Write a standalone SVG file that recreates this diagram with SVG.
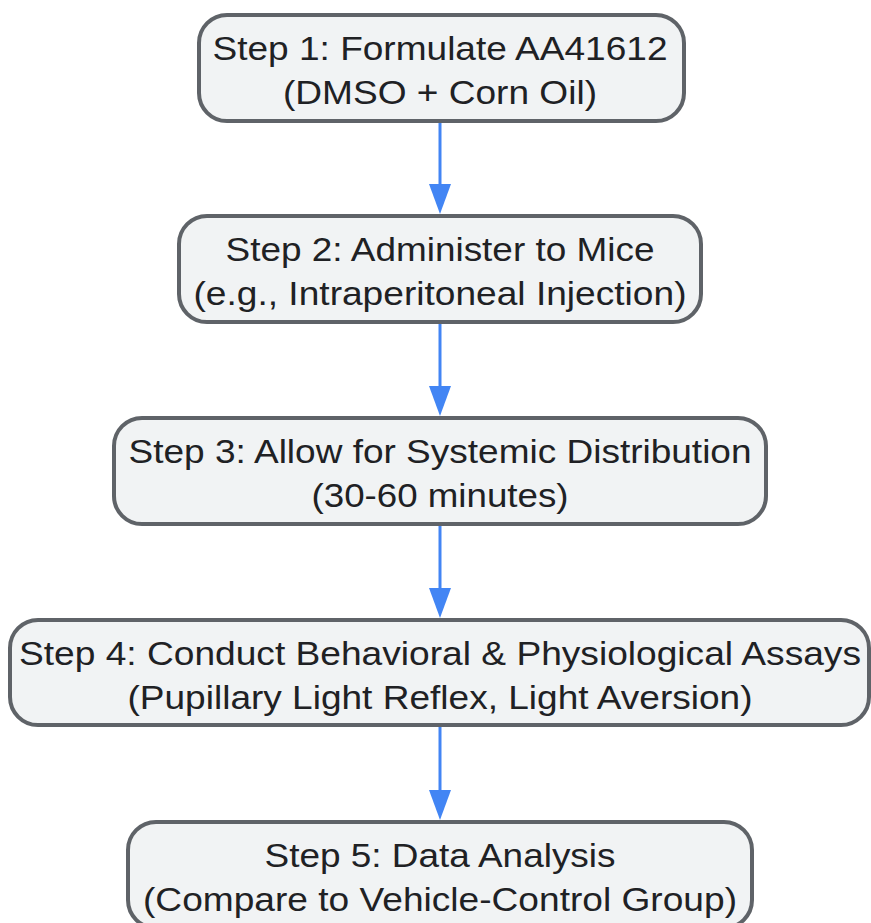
<svg xmlns="http://www.w3.org/2000/svg" width="871" height="923" viewBox="0 0 871 923">
<style>
.node rect{fill:#f1f3f4;stroke:#5f6368;stroke-width:4}
.node text{font-family:"Liberation Sans",Arial,sans-serif;font-size:33px;fill:#202124;text-anchor:middle}
.edge{stroke:#4285f4;stroke-width:3;fill:none}
</style>
<defs>
<marker id="arr" markerUnits="userSpaceOnUse" markerWidth="30" markerHeight="22" refX="16" refY="11" orient="auto">
<path d="M0,0 L30,11 L0,22 z" fill="#4285f4"/>
</marker>
</defs>
<rect width="871" height="923" fill="#ffffff"/>
<g id="connectors">
<line class="edge" x1="440" y1="123" x2="440" y2="200" marker-end="url(#arr)"/>
<line class="edge" x1="440" y1="324" x2="440" y2="402" marker-end="url(#arr)"/>
<line class="edge" x1="440" y1="526" x2="440" y2="604" marker-end="url(#arr)"/>
<line class="edge" x1="440" y1="727" x2="440" y2="806" marker-end="url(#arr)"/>
</g>
<g id="step1" class="node">
<rect x="199" y="15" width="485" height="106" rx="28"/>
<text x="440" y="60" textLength="455" lengthAdjust="spacingAndGlyphs">Step 1: Formulate AA41612</text>
<text x="440" y="104" textLength="314" lengthAdjust="spacingAndGlyphs">(DMSO + Corn Oil)</text>
</g>
<g id="step2" class="node">
<rect x="179" y="216" width="522" height="106" rx="28"/>
<text x="440" y="261" textLength="429" lengthAdjust="spacingAndGlyphs">Step 2: Administer to Mice</text>
<text x="440" y="305" textLength="493" lengthAdjust="spacingAndGlyphs">(e.g., Intraperitoneal Injection)</text>
</g>
<g id="step3" class="node">
<rect x="114" y="418" width="652" height="106" rx="28"/>
<text x="440" y="463" textLength="623" lengthAdjust="spacingAndGlyphs">Step 3: Allow for Systemic Distribution</text>
<text x="440" y="507" textLength="257" lengthAdjust="spacingAndGlyphs">(30-60 minutes)</text>
</g>
<g id="step4" class="node">
<rect x="10" y="620" width="859" height="105" rx="28"/>
<text x="440" y="665" textLength="842" lengthAdjust="spacingAndGlyphs">Step 4: Conduct Behavioral &amp; Physiological Assays</text>
<text x="440" y="709" textLength="625" lengthAdjust="spacingAndGlyphs">(Pupillary Light Reflex, Light Aversion)</text>
</g>
<g id="step5" class="node">
<rect x="128" y="822" width="624" height="106" rx="28"/>
<text x="440" y="867" textLength="351" lengthAdjust="spacingAndGlyphs">Step 5: Data Analysis</text>
<text x="440" y="911" textLength="594" lengthAdjust="spacingAndGlyphs">(Compare to Vehicle-Control Group)</text>
</g>
</svg>
